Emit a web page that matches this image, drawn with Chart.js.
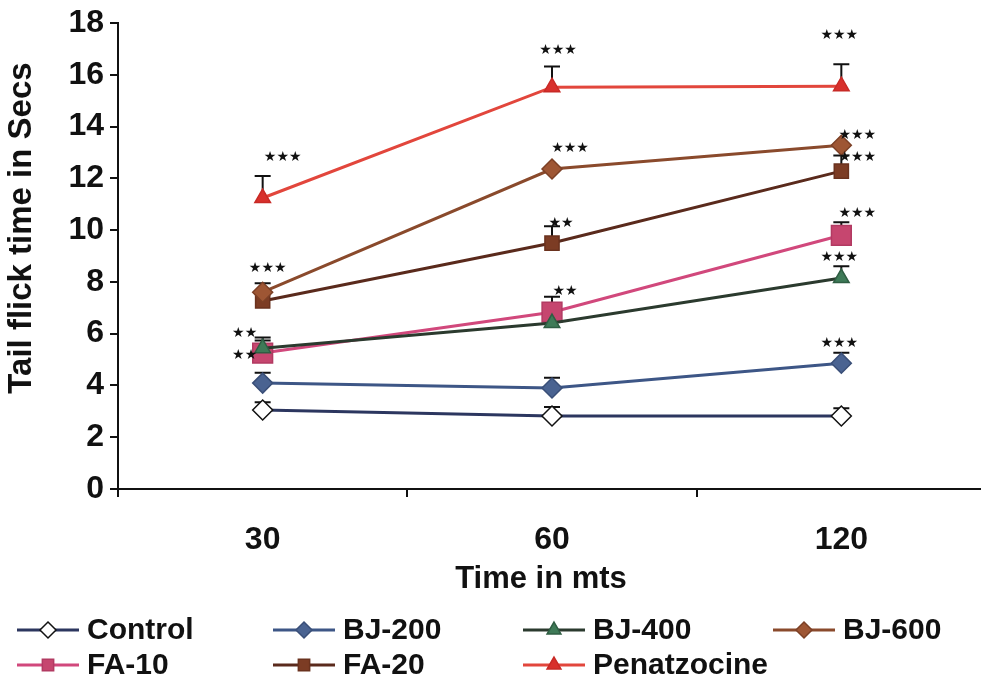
<!DOCTYPE html>
<html>
<head>
<meta charset="utf-8">
<script src="https://cdn.jsdelivr.net/npm/chart.js@4.4.0/dist/chart.umd.min.js"></script>
<style>
  html, body { margin: 0; padding: 0; background: #fff; overflow: hidden; }
  #wrap { width: 990px; height: 690px; }
</style>
</head>
<body>
<div id="wrap"><canvas id="chart" width="990" height="690"></canvas></div>
<script>
  // Data (tail flick time, secs)
  const times = ['30', '60', '120'];
  const seriesNames = ['Control', 'BJ-200', 'BJ-400', 'BJ-600', 'FA-10', 'FA-20', 'Penatzocine'];

  const control = [3.05, 2.82, 2.82];
  const bj200 = [4.09, 3.9, 4.86];
  const bj400 = [5.44, 6.41, 8.15];
  const bj600 = [7.6, 12.36, 13.28];
  const fa10 = [5.25, 6.83, 9.8];
  const fa20 = [7.26, 9.5, 12.28];
  const penatzocine = [11.24, 15.52, 15.56];

  // upper error bars (SEM)
  const controlErr = [0.3, 0.35, 0.3];
  const bj200Err = [0.4, 0.4, 0.4];
  const bj400Err = [0.3, 0, 0.45];
  const bj600Err = [0.35, 0, 0];
  const fa10Err = [0.6, 0.6, 0.5];
  const fa20Err = [0.3, 0.65, 0.6];
  const penatzocineErr = [0.85, 0.8, 0.85];

  // significance marks
  const controlSig = ['', '', ''];
  const bj200Sig = ['', '', '***'];
  const bj400Sig = ['**', '', '***'];
  const bj600Sig = ['***', '***', '***'];
  const fa10Sig = ['**', '**', '***'];
  const fa20Sig = ['', '**', '***'];
  const penatzocineSig = ['***', '***', '***'];

  const yTicks = [0, 2, 4, 6, 8, 10, 12, 14, 16, 18];

  const values = [control, bj200, bj400, bj600, fa10, fa20, penatzocine];
  const errors = [controlErr, bj200Err, bj400Err, bj600Err, fa10Err, fa20Err, penatzocineErr];
  const sigs = [controlSig, bj200Sig, bj400Sig, bj600Sig, fa10Sig, fa20Sig, penatzocineSig];

  // styling per series
  const styles = [
    { line: '#2c365f', fill: '#ffffff', edge: '#111111', shape: 'rectRot', r: 10 },
    { line: '#3d5686', fill: '#4a6391', edge: '#3a4f78', shape: 'rectRot', r: 10 },
    { line: '#2b3a2e', fill: '#3e7a57', edge: '#2f5e43', shape: 'triangle', r: 9 },
    { line: '#8a4a2c', fill: '#9e5634', edge: '#7c4026', shape: 'rectRot', r: 10 },
    { line: '#d1487c', fill: '#c6466f', edge: '#b23a62', shape: 'rect', r: 14 },
    { line: '#5a2a1c', fill: '#7c3c24', edge: '#6a321e', shape: 'rect', r: 10 },
    { line: '#e2463c', fill: '#d8302c', edge: '#c82a26', shape: 'triangle', r: 9 }
  ];

  // star label offsets from the data point (px)
  const sigOffsets = [
    [[0, 0], [0, 0], [0, 0]],
    [[0, 0], [0, 0], [-2, -20]],
    [[-18, -15], [0, 0], [-2, -21]],
    [[5, -24], [18, -21], [16, -10]],
    [[-18, 2], [13, -21], [16, -22]],
    [[0, 0], [9, -20], [16, -14]],
    [[20, -41], [6, -37], [-2, -51]]
  ];

  const FONT = '"Liberation Sans", Arial, sans-serif';

  const errorBars = {
    id: 'errorBars',
    beforeDatasetsDraw(chart) {
      const ctx = chart.ctx;
      const y = chart.scales.y;
      ctx.save();
      ctx.strokeStyle = '#111';
      ctx.lineWidth = 2;
      values.forEach((vals, i) => {
        const meta = chart.getDatasetMeta(i);
        vals.forEach((v, j) => {
          const e = errors[i][j];
          if (!e) return;
          const px = meta.data[j].x;
          const py = y.getPixelForValue(v);
          const top = y.getPixelForValue(v + e);
          ctx.beginPath();
          ctx.moveTo(px, py);
          ctx.lineTo(px, top);
          ctx.moveTo(px - 8, top);
          ctx.lineTo(px + 8, top);
          ctx.stroke();
        });
      });
      ctx.restore();
    }
  };

  const sigMarks = {
    id: 'sigMarks',
    afterDatasetsDraw(chart) {
      const ctx = chart.ctx;
      ctx.save();
      ctx.fillStyle = '#111';
      ctx.font = '14px "DejaVu Sans", sans-serif';
      ctx.textAlign = 'center';
      ctx.textBaseline = 'middle';
      sigs.forEach((row, i) => {
        const meta = chart.getDatasetMeta(i);
        row.forEach((s, j) => {
          if (!s) return;
          const stars = s.replace(/\*/g, '\u2605');
          const off = sigOffsets[i][j];
          ctx.fillText(stars, meta.data[j].x + off[0], meta.data[j].y + off[1]);
        });
      });
      ctx.restore();
    }
  };

  // axis titles are placed where the original figure has them (not centred on the plot)
  const axisTitles = {
    id: 'axisTitles',
    afterDraw(chart) {
      const ctx = chart.ctx;
      ctx.save();
      ctx.fillStyle = '#111';
      ctx.textAlign = 'center';
      ctx.textBaseline = 'middle';
      ctx.font = 'bold 31px ' + FONT;
      ctx.fillText('Time in mts', 541, 579);
      ctx.translate(22, 228);
      ctx.rotate(-Math.PI / 2);
      ctx.font = 'bold 33px ' + FONT;
      ctx.fillText('Tail flick time in Secs', 0, 0);
      ctx.restore();
    }
  };

  function drawMarker(ctx, st, x, y) {
    const r = st.r;
    ctx.beginPath();
    if (st.shape === 'rectRot') {
      ctx.moveTo(x, y - r); ctx.lineTo(x + r, y); ctx.lineTo(x, y + r); ctx.lineTo(x - r, y);
    } else if (st.shape === 'rect') {
      const s = r * Math.SQRT1_2;
      ctx.rect(x - s, y - s, 2 * s, 2 * s);
    } else {
      const h = r * 1.5;
      ctx.moveTo(x, y - r); ctx.lineTo(x + h / Math.sqrt(3), y + r / 2); ctx.lineTo(x - h / Math.sqrt(3), y + r / 2);
    }
    ctx.closePath();
    ctx.fillStyle = st.fill;
    ctx.fill();
    ctx.lineWidth = 1.5;
    ctx.strokeStyle = st.edge;
    ctx.stroke();
  }

  // legend in two rows, fixed columns like the original figure
  const legendCols = [17, 273, 523, 773];
  const legendRows = [630, 665];
  const gridLegend = {
    id: 'gridLegend',
    afterDraw(chart) {
      const ctx = chart.ctx;
      ctx.save();
      ctx.font = 'bold 30px ' + FONT;
      ctx.textBaseline = 'middle';
      ctx.textAlign = 'left';
      seriesNames.forEach((name, i) => {
        const st = styles[i];
        const x = legendCols[i % 4];
        const y = legendRows[Math.floor(i / 4)];
        ctx.strokeStyle = st.line;
        ctx.lineWidth = 3;
        ctx.beginPath();
        ctx.moveTo(x, y);
        ctx.lineTo(x + 62, y);
        ctx.stroke();
        drawMarker(ctx, Object.assign({}, st, { r: Math.min(st.r, 8) }), x + 31, y);
        ctx.fillStyle = '#111';
        ctx.fillText(name, x + 70, y + 1);
      });
      ctx.restore();
    }
  };

  const datasets = seriesNames.map((name, i) => ({
    label: name,
    data: values[i],
    borderColor: styles[i].line,
    borderWidth: 3,
    pointStyle: styles[i].shape,
    pointRadius: styles[i].r,
    pointBackgroundColor: styles[i].fill,
    pointBorderColor: styles[i].edge,
    pointBorderWidth: 1.5,
    fill: false,
    tension: 0
  }));

  new Chart(document.getElementById('chart'), {
    type: 'line',
    data: { labels: times, datasets },
    options: {
      responsive: false,
      animation: false,
      events: [],
      layout: { autoPadding: false, padding: { top: 23, left: 0, right: 4, bottom: 90 } },
      plugins: {
        legend: { display: false },
        tooltip: { enabled: false }
      },
      scales: {
        x: {
          type: 'category',
          offset: true,
          afterFit(scale) {
            scale.height = 111;
            scale.paddingLeft = 0;
            scale.paddingRight = 0;
          },
          grid: { offset: true, drawOnChartArea: false, drawTicks: true, tickLength: 8, color: '#111', lineWidth: 2 },
          border: { display: true, color: '#111', width: 2 },
          ticks: { color: '#111', padding: 24, font: { family: FONT, size: 32, weight: 'bold' } },
          title: { display: false }
        },
        y: {
          min: 0,
          max: 18,
          afterFit(scale) {
            scale.width = 118;
            scale.paddingTop = 0;
            scale.paddingBottom = 0;
          },
          afterBuildTicks(scale) { scale.ticks = yTicks.map(v => ({ value: v })); },
          grid: { drawOnChartArea: false, drawTicks: true, tickLength: 8, color: '#111', lineWidth: 2 },
          border: { display: true, color: '#111', width: 2 },
          ticks: { color: '#111', padding: 6, font: { family: FONT, size: 32, weight: 'bold' } },
          title: { display: false }
        }
      }
    },
    plugins: [errorBars, sigMarks, axisTitles, gridLegend]
  });
</script>
</body>
</html>
